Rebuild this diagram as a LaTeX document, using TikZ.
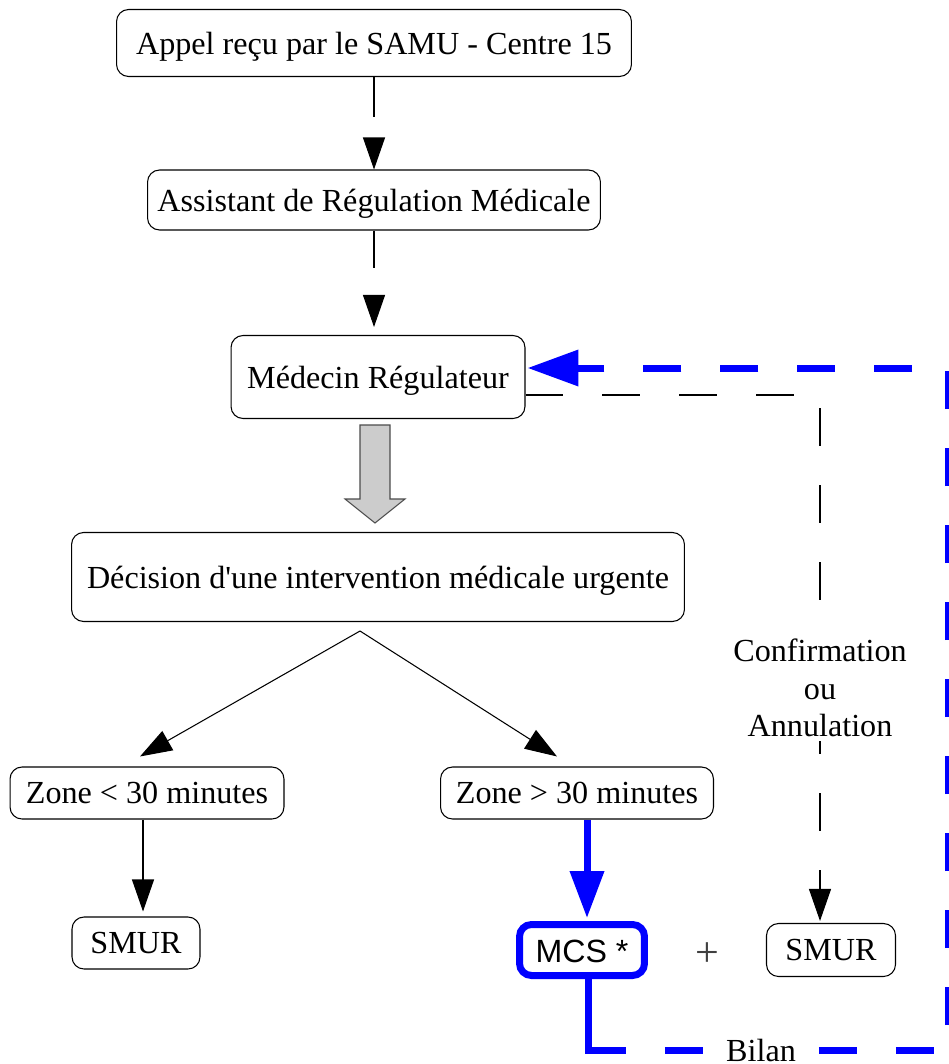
\documentclass[tikz,border=0pt]{standalone}
\usepackage{fontspec}
\setmainfont{Liberation Serif}
\newfontfamily\mcsfont{Liberation Sans}
\usetikzlibrary{arrows.meta,calc}

\tikzset{
	box/.style={draw, rounded corners=0.24cm, line width=0.6pt, fill=white, inner sep=0pt,
		text depth=0pt, font=\fontsize{18.3}{22}\selectfont},
	lbl/.style={fill=white, inner sep=2pt, align=center, font=\fontsize{18.3}{21.5}\selectfont},
	arr/.style={line width=0.6pt, -{Triangle[width=0.44cm, length=0.64cm]}},
	bluearr/.style={blue, line width=0.14cm, -{Triangle[width=0.66cm, length=0.94cm]}},
	blueline/.style={blue, line width=0.14cm, line cap=rect},
	bluedash/.style={blue, line width=0.14cm, dash pattern=on 0.76cm off 0.78cm,
		-{Triangle[width=0.7cm, length=1.02cm]}},
	thindash/.style={line width=0.6pt, dash pattern=on 0.76cm off 0.78cm,
		-{Triangle[width=0.44cm, length=0.64cm]}},
}

\begin{document}
\begin{tikzpicture}[x=0.02cm, y=-0.02cm]
	\useasboundingbox (0,0) rectangle (948,1064);

	% boxes
	\node[box, minimum width=10.3cm, minimum height=1.34cm] (appel) at (374,43) {Appel reçu par le SAMU - Centre 15};
	\node[box, minimum width=9.06cm, minimum height=1.2cm] (assist) at (374,200) {Assistant de Régulation Médicale};
	\node[box, minimum width=5.88cm, minimum height=1.66cm] (medecin) at (378,377) {Médecin Régulateur};
	\node[box, minimum width=12.26cm, minimum height=1.78cm] (decision) at (378,577) {Décision d\textquotesingle une intervention médicale urgente};
	\node[box, minimum width=5.48cm, minimum height=1.04cm] (zlow) at (147,793) {Zone < 30 minutes};
	\node[box, minimum width=5.46cm, minimum height=1.04cm] (zhigh) at (577,793) {Zone > 30 minutes};
	\node[box, minimum width=2.56cm, minimum height=1.04cm] (smurA) at (136,943) {SMUR};
	\node[box, draw=blue, line width=0.14cm, minimum width=2.5cm, minimum height=1.02cm] (mcs) at (582,950) {\mcsfont\raisebox{-2pt}{MCS *}};
	\node[box, minimum width=2.58cm, minimum height=1.06cm] (smurB) at (831,950) {SMUR};

	% gray block arrow
	\draw[fill=black!20, draw=black!70, line width=0.6pt] (360,425) -- (390,425) -- (390,499) -- (405,499)
		-- (375,523) -- (345,499) -- (360,499) -- cycle;

	% black connectors
	\draw[arr, dash pattern=on 0.8cm off 3cm] (appel.south) -- (appel.south |- assist.north);
	\draw[arr, dash pattern=on 0.74cm off 3cm, shorten >=0.16cm] (assist.south) -- (assist.south |- medecin.north);
	\coordinate (split) at (360,631);
	\draw[arr] (split) -- ($(zlow.north)+(-7,-10)$);
	\draw[arr] (split) -- ($(zhigh.north)+(-20,-10)$);
	\draw[arr] ($(zlow.south)+(-4,0)$) -- ($(smurA.north)+(7,-5)$);
	\draw[thindash] ($(medecin.east)+(0,18)$) -| ($(smurB.north)+(-11,-2)$);

	% blue connectors
	\draw[bluearr] ($(zhigh.south)+(10,0)$) -- ($(mcs.north)+(5,-3)$);
	\coordinate (bl) at (588,1050);
	\coordinate (br) at (948,1050);
	\coordinate (tr) at (948,368);
	\draw[blueline] (mcs.south -| bl) -- (bl);
	\draw[bluedash] (bl) -- (br) -- (tr) -- ($(medecin.east |- tr)+(2,0)$);

	% labels
	\node[lbl] (confirm) at (820,688) {Confirmation\\ou\\Annulation};
	\node[lbl] (bilan) at (761,1050) {Bilan};
	\node[lbl, fill=none, text=black!75, font=\fontsize{24}{26}\selectfont] (plus) at (707,955) {+};
\end{tikzpicture}
\end{document}
